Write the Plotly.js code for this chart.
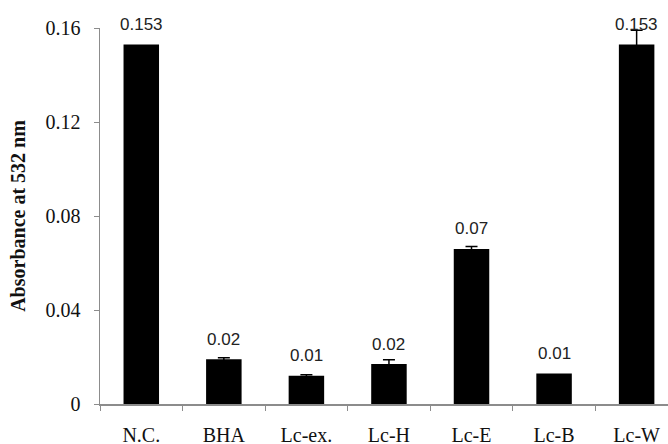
<!DOCTYPE html>
<html>
<head>
<meta charset="utf-8">
<script src="https://cdn.plot.ly/plotly-3.0.1.min.js"></script>
<style>
  html, body { margin: 0; padding: 0; background: #fff; }
  #chart { width: 668px; height: 444px; }
</style>
</head>
<body>
<div id="chart"></div>
<script>
// Samples and their measured absorbance at 532 nm
const categories = ['N.C.', 'BHA', 'Lc-ex.', 'Lc-H', 'Lc-E', 'Lc-B', 'Lc-W'];
const absorbance = [0.153, 0.019, 0.012, 0.017, 0.066, 0.013, 0.153];
const errors     = [0, 0.0007, 0.0004, 0.0018, 0.001, 0, 0.006];
const yTicks     = [0, 0.04, 0.08, 0.12, 0.16];

// Value labels: three decimals for the large values, two for the rest
const fmt = v => (v >= 0.1 ? v.toFixed(3) : v.toFixed(2));

const serif = 'Liberation Serif, Times New Roman, serif';

const bars = {
  type: 'bar',
  x: categories,
  y: absorbance,
  marker: { color: '#000000', line: { width: 0 } },
  hoverinfo: 'none'
};

// Error bars only where a deviation was reported
const withErr = categories.map((c, i) => i).filter(i => errors[i] > 0);
const errTrace = {
  type: 'scatter',
  mode: 'markers',
  x: withErr.map(i => categories[i]),
  y: withErr.map(i => absorbance[i]),
  marker: { size: 1, opacity: 0 },
  error_y: {
    type: 'data',
    array: withErr.map(i => errors[i]),
    visible: true,
    color: '#000000',
    thickness: 1.5,
    width: 6
  },
  hoverinfo: 'none'
};

const labels = categories.map((c, i) => ({
  x: c,
  y: absorbance[i],
  xref: 'x',
  yref: 'y',
  text: fmt(absorbance[i]),
  showarrow: false,
  yanchor: 'middle',
  yshift: 20,
  font: { family: 'Liberation Sans, Arial, sans-serif', size: 17, color: '#222222' }
}));

const layout = {
  width: 668,
  height: 444,
  margin: { l: 100, r: 0, t: 28, b: 40, pad: 0 },
  paper_bgcolor: '#ffffff',
  plot_bgcolor: '#ffffff',
  showlegend: false,
  bargap: 0.57,
  xaxis: {
    type: 'category',
    range: [-0.5, 6.38],
    showline: true,
    linecolor: '#8c8c8c',
    linewidth: 1.5,
    ticks: 'outside',
    tickson: 'boundaries',
    ticklen: 5,
    tickcolor: '#8c8c8c',
    tickwidth: 1,
    showgrid: false,
    zeroline: false,
    ticklabelstandoff: 12,
    tickfont: { family: serif, size: 20, color: '#111111' }
  },
  yaxis: {
    range: [0, 0.16],
    tickvals: yTicks,
    ticktext: yTicks.map(v => String(v)),
    showline: true,
    linecolor: '#8c8c8c',
    linewidth: 1.5,
    ticks: 'outside',
    ticklen: 5,
    tickcolor: '#8c8c8c',
    tickwidth: 1,
    showgrid: false,
    zeroline: false,
    ticklabelstandoff: 9,
    tickfont: { family: serif, size: 20, color: '#111111' },
    title: {
      text: '<b>Absorbance at 532 nm</b>',
      font: { family: serif, size: 20, color: '#111111' },
      standoff: 14
    }
  },
  annotations: labels
};

Plotly.newPlot('chart', [bars, errTrace], layout, { displayModeBar: false, staticPlot: true });
</script>
</body>
</html>
